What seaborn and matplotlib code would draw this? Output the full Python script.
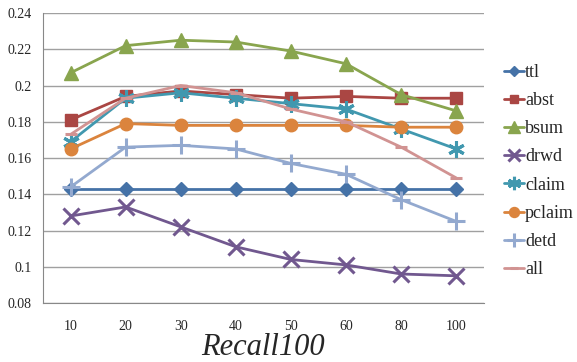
import numpy as np
import pandas as pd
import matplotlib
matplotlib.use("Agg")
import matplotlib.pyplot as plt
import seaborn as sns

recall = ["10", "20", "30", "40", "50", "60", "80", "100"]

ttl = [0.143, 0.143, 0.143, 0.143, 0.143, 0.143, 0.143, 0.143]
abst = [0.181, 0.194, 0.197, 0.195, 0.193, 0.194, 0.193, 0.193]
bsum = [0.207, 0.222, 0.225, 0.224, 0.219, 0.212, 0.195, 0.186]
drwd = [0.128, 0.133, 0.122, 0.111, 0.104, 0.101, 0.096, 0.095]
claim = [0.169, 0.193, 0.196, 0.193, 0.190, 0.187, 0.176, 0.165]
pclaim = [0.165, 0.179, 0.178, 0.178, 0.178, 0.178, 0.177, 0.177]
detd = [0.144, 0.166, 0.167, 0.165, 0.157, 0.151, 0.137, 0.125]
all_ = [0.173, 0.193, 0.200, 0.196, 0.187, 0.180, 0.166, 0.149]

series = {"ttl": ttl, "abst": abst, "bsum": bsum, "drwd": drwd,
          "claim": claim, "pclaim": pclaim, "detd": detd, "all": all_}

colors = {"ttl": "#4572A7", "abst": "#AA4643", "bsum": "#89A54E", "drwd": "#71588F",
          "claim": "#4198AF", "pclaim": "#DB843D", "detd": "#93A9CF", "all": "#D19392"}
markers = {"ttl": "D", "abst": "s", "bsum": "^", "drwd": "x",
           "claim": (6, 2, 0), "pclaim": "o", "detd": "+", "all": "_"}
msizes = {"ttl": 7, "abst": 8, "bsum": 10, "drwd": 11,
          "claim": 12, "pclaim": 9, "detd": 13, "all": 8}

sns.set_style("white")
plt.rcParams["font.family"] = ["Liberation Serif", "DejaVu Serif"]

fig = plt.figure(figsize=(5.77, 3.62), dpi=100)
ax = fig.add_axes([0.0745, 0.163, 0.764, 0.801])

pos = np.arange(len(recall))
for name, vals in series.items():
    df = pd.DataFrame({"x": pos, "y": vals})
    sns.lineplot(data=df, x="x", y="y", ax=ax, color=colors[name], lw=2,
                 marker=markers[name], markersize=msizes[name],
                 markeredgecolor=colors[name], markeredgewidth=2.2 if name in ("drwd", "claim", "detd", "all") else 1,
                 label=name)

ax.set_xlim(-0.5, len(recall) - 0.5)
ax.set_ylim(0.08, 0.24)
ax.set_yticks(np.arange(0.08, 0.2401, 0.02))
ax.set_yticklabels(["0.08", "0.1", "0.12", "0.14", "0.16", "0.18", "0.2", "0.22", "0.24"], fontsize=10)
ax.set_xticks(pos)
ax.set_xticklabels(recall, fontsize=10)
ax.set_xticks(np.arange(-0.5, len(recall)), minor=True)
ax.tick_params(axis="x", which="major", length=0, pad=12)
ax.tick_params(axis="x", which="minor", length=4, color="#888888", direction="out")
ax.tick_params(axis="y", length=4, color="#888888", direction="out", pad=4)
ax.grid(axis="y", color="#a0a0a0", lw=1)
ax.set_axisbelow(True)
for s in ("top", "right"):
    ax.spines[s].set_visible(False)
for s in ("left", "bottom"):
    ax.spines[s].set_color("#888888")
ax.set_ylabel("")
ax.set_xlabel("Recall100", fontsize=22, style="italic", labelpad=0)

ax.legend(loc="center left", bbox_to_anchor=(1.03, 0.455), frameon=False,
          fontsize=13, handlelength=1.1, handletextpad=0.05, labelspacing=0.62,
          borderaxespad=0, markerscale=0.8)

fig.savefig("out.png", dpi=100)
